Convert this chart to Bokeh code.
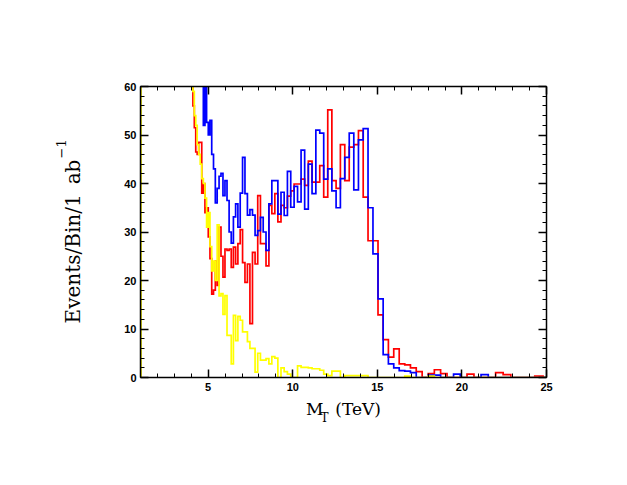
import numpy as np
from bokeh.plotting import figure
from bokeh.models import Range1d, LinearAxis, FixedTicker, Title, CustomJSTickFormatter
from bokeh.embed import file_html
from bokeh.resources import INLINE

# ---- data -------------------------------------------------------------
# histogram bin edges in M_T (TeV); first bin is a wide off-scale bin
bin_edges = [1.03,
    3.938, 4.018, 4.099, 4.182, 4.266, 4.352, 4.440, 4.530, 4.621, 4.715,
    4.810, 4.907, 5.006, 5.107, 5.210, 5.316, 5.423, 5.533, 5.644, 5.758,
    5.875, 5.993, 6.114, 6.238, 6.364, 6.492, 6.623, 6.757, 6.894, 7.033,
    7.175, 7.320, 7.468, 7.619, 7.773, 7.930, 8.090, 8.253, 8.420, 8.590,
    8.764, 8.941, 9.121, 9.305, 9.493, 9.685, 9.881, 10.080, 10.284, 10.492,
    10.704, 10.920, 11.141, 11.366, 11.596, 11.830, 12.069, 12.313, 12.562, 12.816,
    13.075, 13.339, 13.609, 13.884, 14.164, 14.450, 14.742, 15.040, 15.344, 15.654,
    15.970, 16.293, 16.622, 16.958, 17.300, 17.650, 18.006, 18.370, 18.741, 19.120,
    19.506, 19.900, 20.302, 20.712, 21.131, 21.558, 21.993, 22.437, 22.891, 23.353,
    23.825, 24.306, 24.797, 25.298]

red_counts = [90,
    80, 66, 56, 51.5, 46.5, 46, 48.5, 48.5, 38, 40,
    34, 35, 29, 24.5, 17.2, 18, 24, 19, 31, 25,
    20.7, 26.5, 26.2, 26.5, 22.7, 26.9, 23.4, 27.6, 30.5, 23.7,
    19.6, 23.4, 11.1, 25.8, 23.4, 37.5, 27.6, 27.6, 23, 35.5,
    33.8, 37.9, 32.1, 35.5, 35, 37.4, 38.5, 39.9, 39.9, 40.9,
    39.6, 44.6, 40.3, 40.3, 43.7, 37.2, 55.2, 40.6, 39, 48,
    40.6, 47.5, 48, 50.9, 37.2, 28.2, 28.2, 12.9, 7.8, 4.2,
    5.9, 2.8, 2.6, 2.0, 1.2, 0, 0.8, 1.6, 0.8, 0,
    0, 0, 0.7, 0, 0, 0, 1.0, 0.6, 0, 0,
    0, 0.3, 0]

blue_counts = [100,
    90, 85, 80, 76, 72, 70, 68, 66, 63, 52,
    62, 52.6, 50, 53, 46, 43, 36, 39, 41.5, 42.1,
    37.5, 40.6, 36.5, 30, 27.7, 33.1, 35.8, 31, 38, 45.4,
    37.9, 33.5, 34.6, 33.5, 29.3, 30.3, 33, 30, 26.2, 35.8,
    40.6, 40.6, 33.7, 38.2, 33.4, 42.5, 35.1, 39.4, 36.2, 46.9,
    34.7, 44, 37.9, 51, 50.4, 40.9, 43, 38.5, 35, 41,
    45.4, 50.4, 38.7, 49, 51.3, 35, 25.5, 16.2, 4.7, 2.8,
    2.0, 1.4, 1.3, 1.0, 0, 0, 0.5, 0.5, 0, 0,
    0.7, 0, 0, 0, 0.6, 0, 0, 0, 0, 0,
    0, 0, 0]

yellow_counts = [120,
    72, 66, 59, 54, 52, 48, 46, 44, 41, 40,
    37, 31, 34, 27, 22, 24, 20, 31.5, 16.8, 17.3,
    13, 16.9, 8.7, 8.7, 2.8, 12.8, 7.6, 12.6, 11.8, 9.4,
    9.4, 7.4, 6.0, 6.0, 1.1, 5.0, 3.6, 3.6, 3.9, 2.8,
    4.3, 4.0, 0, 2.0, 1.2, 0.7, 0, 0, 2.4, 2.1,
    2.1, 2.0, 1.8, 1.8, 1.5, 0.7, 0.4, 1.3, 1.3, 0,
    0.4, 0.4, 0.4, 0.4, 0.4, 0, 0, 0, 0, 0,
    0, 0, 0.3, 0, 0, 0, 0.3, 0, 0, 0,
    0, 0, 0, 0, 0, 0, 0, 0, 0, 0,
    0, 0, 0]

x_major_ticks = [5, 10, 15, 20, 25]
x_minor_ticks = list(range(1, 26))
y_major_ticks = [0, 10, 20, 30, 40, 50, 60]
y_minor_ticks = list(range(0, 61, 2))

x_title_main = "M\u2002\u2009(TeV)"                  # gap holds the subscript
x_title_sub = "T"
y_title_main = "Events/Bin/1\u2002ab\u00a0\u00a0\u00a0"   # room for the exponent
y_title_sup = "\u22121"

SERIF = "DejaVu Serif"

# ---- figure -----------------------------------------------------------
p = figure(width=611, height=469,
           x_range=Range1d(1, 25), y_range=Range1d(0, 60),
           x_axis_type=None, y_axis_type=None,
           output_backend="svg", toolbar_location=None,
           min_border_left=140, min_border_right=65,
           min_border_top=86, min_border_bottom=92)
p.grid.visible = False
p.outline_line_color = None
p.background_fill_color = "white"
p.border_fill_color = "white"


def make_axis(major, minor, labels):
    ax = LinearAxis(ticker=FixedTicker(ticks=major, minor_ticks=minor),
                    axis_line_color="black", axis_line_width=1.5,
                    major_tick_in=8, major_tick_out=0,
                    minor_tick_in=4, minor_tick_out=0,
                    major_tick_line_width=1.5, minor_tick_line_width=1,
                    major_tick_line_color="black", minor_tick_line_color="black",
                    major_label_text_font="Liberation Sans",
                    major_label_text_font_style="bold",
                    major_label_text_font_size="11px",
                    major_label_text_color="black",
                    major_label_standoff=5,
                    axis_label_text_font=SERIF,
                    axis_label_text_font_style="normal",
                    axis_label_text_color="black")
    if not labels:
        ax.formatter = CustomJSTickFormatter(code="return ''")
        ax.major_label_standoff = 0
    return ax


xb = make_axis(x_major_ticks, x_minor_ticks, True)
xb.axis_label = x_title_main
xb.axis_label_text_font_size = "17px"
xb.axis_label_standoff = 5
yl = make_axis(y_major_ticks, y_minor_ticks, True)
yl.major_label_standoff = 4
yl.axis_label = y_title_main
yl.axis_label_text_font_size = "20px"
yl.axis_label_standoff = 36

p.add_layout(xb, "below")
p.add_layout(make_axis(x_major_ticks, x_minor_ticks, False), "above")
p.add_layout(yl, "left")
p.add_layout(make_axis(y_major_ticks, y_minor_ticks, False), "right")

# subscript "T" of M_T, just after the "M" of the axis title
p.add_layout(Title(text=x_title_sub, align="left", offset=180,
                   vertical_align="top", standoff=-22,
                   text_font=SERIF, text_font_size="12px",
                   text_font_style="normal", text_color="black"), "below")
# exponent "-1" of ab^-1, raised next to "ab" of the axis title
p.add_layout(Title(text=y_title_sup, align="left", offset=219,
                   vertical_align="bottom", standoff=-15,
                   text_font=SERIF, text_font_size="13px",
                   text_font_style="normal", text_color="black"), "left")


def step_xy(edges, counts):
    xs = [edges[0]] + list(edges)
    ys = [0] + list(counts) + [counts[-1]]
    return xs, ys


for counts, col in ((red_counts, "#ff0000"), (blue_counts, "#0000ff"),
                    (yellow_counts, "#ffff00")):
    xs, ys = step_xy(bin_edges, counts)
    p.step(xs, ys, mode="after", line_color=col, line_width=1.7,
           line_join="miter")

open("out.html", "w").write(file_html(p, INLINE))
